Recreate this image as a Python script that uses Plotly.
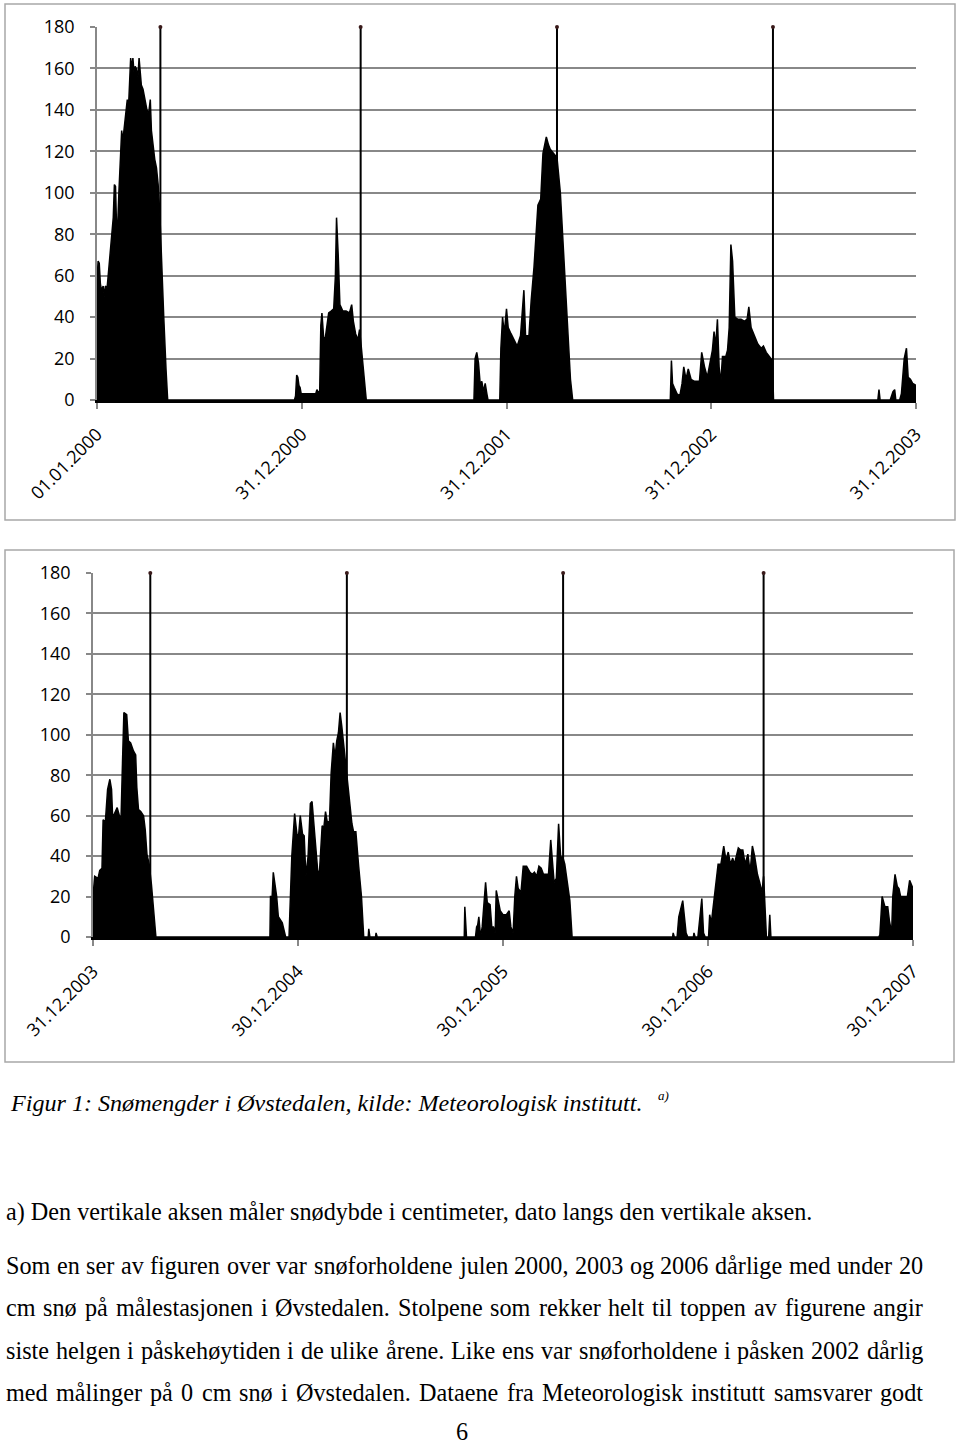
import plotly.graph_objects as go

# ---------------- DATA (snow depth, cm) ----------------
# Panel 1: 01.01.2000 - 31.12.2003
winter_2000 = [("2000-01-01", 58), ("2000-01-03", 67), ("2000-01-05", 66), ("2000-01-07", 56), ("2000-01-09", 53),
               ("2000-01-12", 55), ("2000-01-14", 50), ("2000-01-16", 55), ("2000-01-19", 54), ("2000-01-21", 60),
               ("2000-01-24", 70), ("2000-01-27", 80), ("2000-01-30", 88), ("2000-02-01", 104), ("2000-02-03", 103),
               ("2000-02-05", 82), ("2000-02-07", 85), ("2000-02-09", 100), ("2000-02-12", 115), ("2000-02-14", 130),
               ("2000-02-16", 125), ("2000-02-18", 130), ("2000-02-21", 137), ("2000-02-24", 145), ("2000-02-26", 140),
               ("2000-02-28", 150), ("2000-03-01", 165), ("2000-03-03", 160), ("2000-03-05", 165), ("2000-03-07", 158),
               ("2000-03-09", 161), ("2000-03-11", 160), ("2000-03-14", 156), ("2000-03-16", 165), ("2000-03-18", 160),
               ("2000-03-20", 152), ("2000-03-23", 150), ("2000-03-27", 145), ("2000-03-30", 140), ("2000-04-02", 138),
               ("2000-04-05", 145), ("2000-04-07", 130), ("2000-04-10", 122), ("2000-04-13", 116), ("2000-04-16", 112),
               ("2000-04-19", 104), ("2000-04-22", 90), ("2000-04-25", 72), ("2000-04-29", 40), ("2000-05-03", 15),
               ("2000-05-06", 0)]
winter_2001 = [("2000-12-18", 0), ("2000-12-20", 2), ("2000-12-22", 12), ("2000-12-24", 11), ("2000-12-26", 7),
               ("2000-12-28", 6), ("2000-12-30", 3), ("2001-01-25", 3), ("2001-01-27", 5), ("2001-01-29", 4),
               ("2001-02-01", 4), ("2001-02-03", 36), ("2001-02-05", 42), ("2001-02-08", 30), ("2001-02-11", 30),
               ("2001-02-14", 35), ("2001-02-17", 42), ("2001-02-22", 43), ("2001-02-26", 44), ("2001-03-01", 60),
               ("2001-03-03", 88), ("2001-03-06", 70), ("2001-03-09", 46), ("2001-03-14", 43), ("2001-03-20", 43),
               ("2001-03-26", 42), ("2001-03-30", 46), ("2001-04-02", 38), ("2001-04-06", 32), ("2001-04-10", 29),
               ("2001-04-13", 34), ("2001-04-16", 26), ("2001-04-20", 15), ("2001-04-25", 0)]
winter_2002 = [("2001-11-03", 0), ("2001-11-05", 20), ("2001-11-08", 23), ("2001-11-11", 18), ("2001-11-14", 8),
               ("2001-11-17", 9), ("2001-11-20", 4), ("2001-11-23", 8), ("2001-11-26", 3), ("2001-11-28", 0),
               ("2001-12-19", 0), ("2001-12-21", 25), ("2001-12-24", 40), ("2001-12-27", 32), ("2001-12-31", 44),
               ("2002-01-03", 35), ("2002-01-08", 32), ("2002-01-14", 29), ("2002-01-19", 26), ("2002-01-25", 31),
               ("2002-01-31", 53), ("2002-02-03", 31), ("2002-02-09", 31), ("2002-02-13", 48), ("2002-02-18", 64),
               ("2002-02-25", 94), ("2002-03-02", 97), ("2002-03-06", 119), ("2002-03-12", 127), ("2002-03-16", 123),
               ("2002-03-19", 121), ("2002-03-25", 119), ("2002-03-31", 117), ("2002-04-06", 100), ("2002-04-12", 71),
               ("2002-04-18", 39), ("2002-04-24", 10), ("2002-04-28", 0)]
winter_2003 = [("2002-10-19", 0), ("2002-10-21", 19), ("2002-10-23", 8), ("2002-10-26", 6), ("2002-10-31", 3),
               ("2002-11-05", 2), ("2002-11-09", 8), ("2002-11-12", 16), ("2002-11-16", 10), ("2002-11-20", 15),
               ("2002-11-25", 10), ("2002-12-01", 9), ("2002-12-10", 9), ("2002-12-14", 23), ("2002-12-19", 16),
               ("2002-12-24", 11), ("2003-01-02", 24), ("2003-01-05", 33), ("2003-01-08", 26), ("2003-01-11", 39),
               ("2003-01-14", 16), ("2003-01-17", 8), ("2003-01-20", 21), ("2003-01-26", 21), ("2003-01-29", 24),
               ("2003-02-01", 35), ("2003-02-04", 75), ("2003-02-07", 67), ("2003-02-11", 40), ("2003-02-16", 39),
               ("2003-02-22", 39), ("2003-02-28", 38), ("2003-03-05", 39), ("2003-03-08", 45), ("2003-03-12", 35),
               ("2003-03-18", 31), ("2003-03-24", 27), ("2003-03-30", 25), ("2003-04-03", 26), ("2003-04-08", 23),
               ("2003-04-14", 21), ("2003-04-19", 19), ("2003-04-21", 0)]
autumn_2003 = [("2003-10-24", 0), ("2003-10-26", 5), ("2003-10-28", 0), ("2003-11-15", 0), ("2003-11-17", 2),
               ("2003-11-20", 4), ("2003-11-23", 5), ("2003-11-25", 0), ("2003-12-02", 0), ("2003-12-05", 3),
               ("2003-12-10", 20), ("2003-12-14", 25), ("2003-12-17", 11), ("2003-12-21", 10), ("2003-12-25", 8),
               ("2003-12-31", 7)]

# Panel 2: 31.12.2003 - 30.12.2007
winter_2004 = [("2003-12-31", 20), ("2004-01-03", 30), ("2004-01-09", 29), ("2004-01-12", 33), ("2004-01-16", 34),
               ("2004-01-18", 58), ("2004-01-22", 57), ("2004-01-26", 73), ("2004-01-30", 78), ("2004-02-02", 73),
               ("2004-02-04", 59), ("2004-02-08", 62), ("2004-02-12", 64), ("2004-02-16", 60), ("2004-02-19", 59),
               ("2004-02-21", 81), ("2004-02-24", 111), ("2004-02-29", 110), ("2004-03-03", 97), ("2004-03-07", 96),
               ("2004-03-12", 92), ("2004-03-16", 90), ("2004-03-18", 74), ("2004-03-21", 63), ("2004-03-25", 62),
               ("2004-03-30", 60), ("2004-04-02", 53), ("2004-04-05", 41), ("2004-04-09", 36), ("2004-04-13", 26),
               ("2004-04-16", 15), ("2004-04-21", 0)]
winter_2005 = [("2004-11-10", 0), ("2004-11-11", 20), ("2004-11-14", 20), ("2004-11-16", 32), ("2004-11-19", 26),
               ("2004-11-22", 20), ("2004-11-25", 10), ("2004-11-29", 8), ("2004-12-02", 7), ("2004-12-08", 0),
               ("2004-12-14", 0), ("2004-12-19", 40), ("2004-12-24", 61), ("2004-12-28", 51), ("2004-12-31", 50),
               ("2005-01-03", 60), ("2005-01-07", 51), ("2005-01-10", 50), ("2005-01-13", 30), ("2005-01-17", 40),
               ("2005-01-21", 66), ("2005-01-24", 67), ("2005-01-27", 56), ("2005-01-30", 48), ("2005-02-03", 33),
               ("2005-02-06", 31), ("2005-02-11", 55), ("2005-02-14", 54), ("2005-02-17", 62), ("2005-02-20", 57),
               ("2005-02-24", 57), ("2005-02-27", 81), ("2005-03-03", 96), ("2005-03-06", 89), ("2005-03-09", 97),
               ("2005-03-12", 101), ("2005-03-15", 111), ("2005-03-18", 104), ("2005-03-21", 96), ("2005-03-24", 89),
               ("2005-03-28", 76), ("2005-04-02", 66), ("2005-04-05", 56), ("2005-04-08", 52), ("2005-04-12", 52),
               ("2005-04-17", 35), ("2005-04-22", 20), ("2005-04-26", 0), ("2005-05-04", 0), ("2005-05-05", 4),
               ("2005-05-07", 0), ("2005-05-17", 0), ("2005-05-18", 2), ("2005-05-20", 0)]
winter_2006 = [("2005-10-22", 0), ("2005-10-23", 15), ("2005-10-26", 0), ("2005-11-11", 0), ("2005-11-13", 5),
               ("2005-11-15", 6), ("2005-11-17", 10), ("2005-11-20", 0), ("2005-11-23", 5), ("2005-11-29", 27),
               ("2005-12-02", 17), ("2005-12-07", 16), ("2005-12-10", 5), ("2005-12-13", 5), ("2005-12-16", 2),
               ("2005-12-18", 23), ("2005-12-22", 18), ("2005-12-25", 13), ("2005-12-30", 11), ("2006-01-05", 11),
               ("2006-01-10", 13), ("2006-01-13", 5), ("2006-01-17", 2), ("2006-01-20", 20), ("2006-01-23", 30),
               ("2006-01-26", 24), ("2006-01-31", 22), ("2006-02-04", 35), ("2006-02-10", 35), ("2006-02-16", 32),
               ("2006-02-20", 31), ("2006-02-24", 32), ("2006-02-28", 30), ("2006-03-04", 35), ("2006-03-08", 34),
               ("2006-03-12", 31), ("2006-03-16", 31), ("2006-03-21", 31), ("2006-03-25", 48), ("2006-03-28", 36),
               ("2006-03-31", 27), ("2006-04-04", 29), ("2006-04-08", 56), ("2006-04-12", 38), ("2006-04-15", 40),
               ("2006-04-19", 36), ("2006-04-24", 25), ("2006-04-28", 18), ("2006-05-02", 0)]
winter_2007 = [("2006-10-28", 0), ("2006-10-29", 2), ("2006-10-31", 0), ("2006-11-05", 0), ("2006-11-08", 10),
               ("2006-11-15", 18), ("2006-11-18", 10), ("2006-11-21", 2), ("2006-11-24", 0), ("2006-12-04", 0),
               ("2006-12-05", 2), ("2006-12-07", 0), ("2006-12-12", 0), ("2006-12-14", 5), ("2006-12-19", 19),
               ("2006-12-22", 2), ("2006-12-25", 0), ("2006-12-31", 0), ("2007-01-02", 11), ("2007-01-05", 7),
               ("2007-01-10", 20), ("2007-01-13", 28), ("2007-01-17", 36), ("2007-01-22", 36), ("2007-01-27", 45),
               ("2007-01-31", 38), ("2007-02-04", 42), ("2007-02-08", 36), ("2007-02-12", 39), ("2007-02-15", 36),
               ("2007-02-19", 40), ("2007-02-22", 44), ("2007-02-26", 43), ("2007-03-02", 43), ("2007-03-06", 36),
               ("2007-03-11", 41), ("2007-03-15", 32), ("2007-03-19", 45), ("2007-03-23", 40), ("2007-03-28", 31),
               ("2007-04-01", 27), ("2007-04-05", 22), ("2007-04-08", 30), ("2007-04-10", 20), ("2007-04-13", 0),
               ("2007-04-17", 0), ("2007-04-19", 11), ("2007-04-21", 0)]
autumn_2007 = [("2007-10-30", 0), ("2007-11-01", 1), ("2007-11-05", 20), ("2007-11-10", 15), ("2007-11-15", 15),
               ("2007-11-18", 8), ("2007-11-22", 2), ("2007-11-24", 20), ("2007-11-28", 31), ("2007-12-02", 25),
               ("2007-12-05", 24), ("2007-12-08", 20), ("2007-12-15", 20), ("2007-12-20", 20), ("2007-12-24", 28),
               ("2007-12-28", 25), ("2007-12-30", 24)]

# Last weekend of Easter (posts reaching the top)
easter_p1 = ["2000-04-23", "2001-04-15", "2002-03-31", "2003-04-20"]
easter_p2 = ["2004-04-11", "2005-03-27", "2006-04-16", "2007-04-08"]

ticks_p1 = ["2000-01-01", "2000-12-31", "2001-12-31", "2002-12-31", "2003-12-31"]
ticklabels_p1 = ["01.01.2000", "31.12.2000", "31.12.2001", "31.12.2002", "31.12.2003"]
ticks_p2 = ["2003-12-31", "2004-12-30", "2005-12-30", "2006-12-30", "2007-12-30"]
ticklabels_p2 = ["31.12.2003", "30.12.2004", "30.12.2005", "30.12.2006", "30.12.2007"]

caption = "Figur 1: Snømengder i Øvstedalen, kilde: Meteorologisk institutt."
note = "a) Den vertikale aksen måler snødybde i centimeter, dato langs den vertikale aksen."
body_lines = [
    "Som en ser av figuren over var snøforholdene julen 2000, 2003 og 2006 dårlige med under 20",
    "cm snø på målestasjonen i Øvstedalen. Stolpene som rekker helt til toppen av figurene angir",
    "siste helgen i påskehøytiden i de ulike årene. Like ens var snøforholdene i påsken 2002 dårlig",
    "med målinger på 0 cm snø i Øvstedalen. Dataene fra Meteorologisk institutt samsvarer godt",
]
page_number = "6"

# ---------------- FIGURE ----------------
W, H = 960, 1446


def px(x):
    return x / W


def py(y):
    return 1 - y / H


def series(*seasons):
    xs, ys = [], []
    for s in seasons:
        for d, v in s:
            xs.append(d)
            ys.append(v)
    return xs, ys


fig = go.Figure()

panels = [
    dict(xa="x", ya="y", data=series(winter_2000, winter_2001, winter_2002, winter_2003, autumn_2003),
         easter=easter_p1),
    dict(xa="x2", ya="y2", data=series(winter_2004, winter_2005, winter_2006, winter_2007, autumn_2007),
         easter=easter_p2),
]

for p in panels:
    xs, ys = p["data"]
    fig.add_trace(go.Scatter(x=xs, y=ys, mode="lines", fill="tozeroy", fillcolor="black",
                             line=dict(color="black", width=1.5), xaxis=p["xa"], yaxis=p["ya"],
                             showlegend=False, hoverinfo="skip"))
    ex, ey = [], []
    for d in p["easter"]:
        ex += [d, d, None]
        ey += [0, 180, None]
    fig.add_trace(go.Scatter(x=ex, y=ey, mode="lines", line=dict(color="black", width=2),
                             xaxis=p["xa"], yaxis=p["ya"], showlegend=False, hoverinfo="skip"))
    fig.add_trace(go.Scatter(x=p["easter"], y=[180] * len(p["easter"]), mode="markers",
                             marker=dict(color="#3a1a1a", size=4), xaxis=p["xa"], yaxis=p["ya"],
                             showlegend=False, hoverinfo="skip", cliponaxis=False))

tickfont = dict(family="Open Sans", size=18, color="black")
grey = "#888888"


def xaxis_cfg(dom, anchor, rng, tv, tt):
    return dict(domain=dom, anchor=anchor, type="date", range=rng, tickmode="array", tickvals=tv,
                ticktext=tt, tickangle=-45, ticks="outside", ticklen=6, tickcolor=grey, tickwidth=1.5,
                showgrid=False, showline=True, linecolor="black", linewidth=2.5, zeroline=False,
                tickfont=tickfont, ticklabelstandoff=8, automargin=False)


def yaxis_cfg(dom, anchor):
    return dict(domain=dom, anchor=anchor, range=[0, 180], tickmode="linear", tick0=0, dtick=20,
                showgrid=True, gridcolor=grey, gridwidth=1.5, showline=True, linecolor=grey, linewidth=1.5,
                ticks="outside", ticklen=5, tickcolor=grey, tickwidth=1.5, zeroline=False,
                tickfont=tickfont, ticklabelstandoff=12, automargin=False)


fig.update_layout(
    template="none",
    width=W, height=H, autosize=False, margin=dict(l=0, r=0, t=0, b=0, pad=0),
    paper_bgcolor="white", plot_bgcolor="white", showlegend=False,
    xaxis=xaxis_cfg([px(97), px(916)], "y", ["2000-01-01", "2003-12-31"], ticks_p1, ticklabels_p1),
    yaxis=yaxis_cfg([py(400), py(27)], "x"),
    xaxis2=xaxis_cfg([px(93), px(913)], "y2", ["2003-12-31", "2007-12-30"], ticks_p2, ticklabels_p2),
    yaxis2=yaxis_cfg([py(937), py(573)], "x2"),
)

# chart frames
for (x0, y0, x1, y1) in [(5, 4, 955, 520), (5, 550, 954, 1062)]:
    fig.add_shape(type="rect", xref="paper", yref="paper", x0=px(x0), x1=px(x1), y0=py(y1), y1=py(y0),
                  line=dict(color="#a8a8a8", width=1.5), fillcolor="rgba(0,0,0,0)", layer="below")

# ---------------- TEXT ----------------
TNR = {' ': 250, ',': 250, '.': 250, ':': 278, '(': 333, ')': 333,
       'a': 444, 'b': 500, 'c': 444, 'd': 500, 'e': 444, 'f': 333, 'g': 500, 'h': 500, 'i': 278,
       'j': 278, 'k': 500, 'l': 278, 'm': 778, 'n': 500, 'o': 500, 'p': 500, 'q': 500, 'r': 333,
       's': 389, 't': 278, 'u': 500, 'v': 500, 'w': 722, 'x': 500, 'y': 500, 'z': 444,
       'å': 444, 'ø': 500, 'æ': 667, 'A': 722, 'D': 722, 'F': 556, 'L': 611, 'M': 889, 'S': 556,
       'Ø': 722, 'T': 611}


def tw(s, size):
    return sum(TNR.get(c, 500) for c in s) * size / 1000.0


serif = "Liberation Serif, Times New Roman, serif"
LEFT, RIGHT = 5, 922
body_size = round(809 * 1000.0 / (tw(note, 1000)), 1)


def add_text(txt, x, y, size, anchor="left", italic=False):
    fig.add_annotation(text=txt, x=px(x), y=py(y), xref="paper", yref="paper", xanchor=anchor,
                       yanchor="middle", showarrow=False, borderpad=0,
                       font=dict(family=serif, size=size, color="black",
                                 style="italic" if italic else "normal"))


add_text(caption, 9, 1103, body_size - 0.1, italic=True)
add_text("a)", 657, 1095, 13, italic=True)
add_text(note, LEFT, 1212, body_size)

for i, line in enumerate(body_lines):
    y = [1265, 1307, 1350, 1392][i]
    words = line.split(" ")
    total = sum(tw(w, body_size) for w in words)
    gap = (RIGHT - LEFT - total) / (len(words) - 1)
    x = LEFT
    for w in words:
        add_text(w, x, y, body_size)
        x += tw(w, body_size) + gap

add_text(page_number, 462, 1431, body_size, anchor="center")

fig.write_html("out.html")
